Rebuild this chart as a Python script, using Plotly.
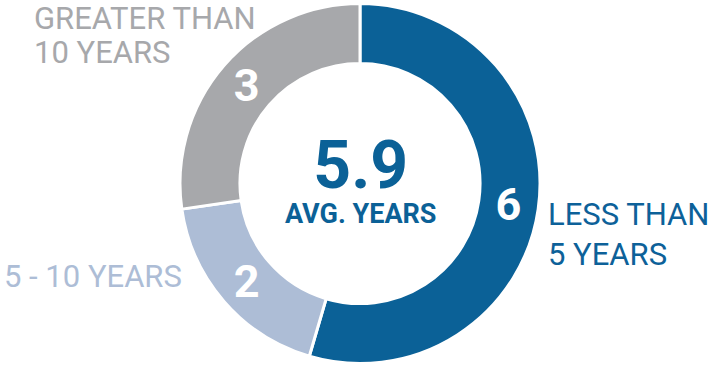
import plotly.graph_objects as go

categories = ["LESS THAN<br>5 YEARS", "5 - 10 YEARS", "GREATER THAN<br>10 YEARS"]
values = [6, 2, 3]
colors = ["#0b6197", "#adbdd6", "#a7a8ab"]
avg_value = "5.9"
avg_label = "AVG. YEARS"

label_lines = [["LESS THAN", "5 YEARS"], ["5 - 10 YEARS"], ["GREATER THAN", "10 YEARS"]]

W, H = 712, 368
cx, cy, R = 360, 183.5, 180

fig = go.Figure(go.Pie(
    labels=categories,
    values=values,
    sort=False,
    direction="clockwise",
    rotation=0,
    hole=0.667,
    marker=dict(colors=colors, line=dict(color="white", width=3)),
    textinfo="value",
    textposition="inside",
    insidetextorientation="horizontal",
    insidetextfont=dict(family="Roboto", size=45, color="white", weight="bold"),
    domain=dict(x=[(cx - R) / W, (cx + R) / W], y=[(H - cy - R) / H, (H - cy + R) / H]),
    showlegend=False,
    hoverinfo="label+value",
))

# label positions (paper px): left x, center y per line
label_pos = [
    [(546, 214), (546, 254)],
    [(2, 276)],
    [(32, 18), (32, 52)],
]
for lines, pos, col in zip(label_lines, label_pos, ["#0d6199", "#adbdd6", "#a7a8ab"]):
    for txt, (x, y) in zip(lines, pos):
        fig.add_annotation(
            x=x / W, y=1 - y / H, xref="paper", yref="paper",
            xanchor="left", yanchor="middle", showarrow=False,
            height=32, valign="middle",
            text=txt, font=dict(family="Roboto", size=31, color=col),
        )

fig.add_annotation(x=cx / W, y=1 - 178 / H, xref="paper", yref="paper",
                   showarrow=False, xanchor="center", yanchor="middle", align="center",
                   text=f"<span style='font-size:66px'>{avg_value}</span><br>{avg_label}",
                   font=dict(family="Roboto", size=27, color="#0b6197", weight="bold"))

fig.update_layout(
    width=W, height=H,
    margin=dict(l=0, r=0, t=0, b=0),
    paper_bgcolor="white", plot_bgcolor="white",
)

fig.write_html("out.html", config={"displayModeBar": False},
               post_script="document.body.style.margin='0';")
